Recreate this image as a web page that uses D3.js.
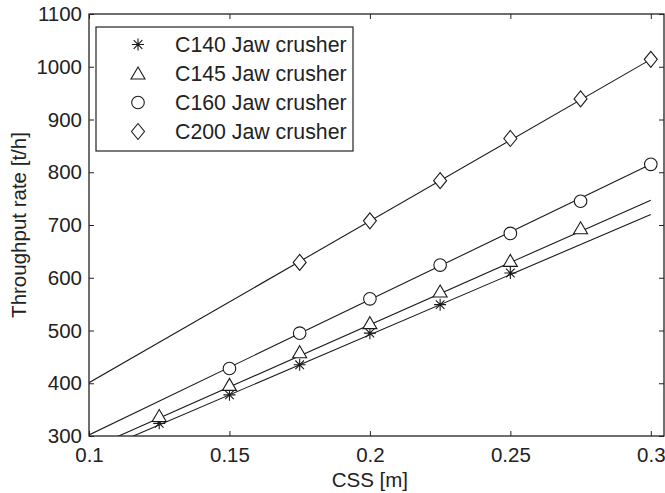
<!DOCTYPE html>
<html>
<head>
<meta charset="utf-8">
<script src="https://cdn.jsdelivr.net/npm/d3@7"></script>
<style>
  body { margin: 0; background: #fff; }
  text { font-family: "Liberation Sans", Arial, sans-serif; fill: #222; }
</style>
</head>
<body>
<div id="chart"></div>
<script>
// values
const seriesNames = ["C140 Jaw crusher", "C145 Jaw crusher", "C160 Jaw crusher", "C200 Jaw crusher"];
const markerTypes = ["asterisk", "triangle", "circle", "diamond"];

const cssC140 = [0.125, 0.15, 0.175, 0.2, 0.225, 0.25];
const rateC140 = [324, 378, 435, 495, 549, 609];
const cssC145 = [0.125, 0.15, 0.175, 0.2, 0.225, 0.25, 0.275];
const rateC145 = [336, 395, 457, 512, 572, 630, 692];
const cssC160 = [0.15, 0.175, 0.2, 0.225, 0.25, 0.275, 0.3];
const rateC160 = [428, 495, 560, 624, 684, 745, 815];
const cssC200 = [0.175, 0.2, 0.225, 0.25, 0.275, 0.3];
const rateC200 = [629, 708, 784, 864, 939, 1014];

// fitted lines, value at css = 0.1 and css = 0.3
const fitCss = [0.1, 0.3];
const fitC140 = [264, 720];
const fitC145 = [275, 747];
const fitC160 = [302, 815];
const fitC200 = [401, 1014];

const xTicks = [0.1, 0.15, 0.2, 0.25, 0.3];
const yTicks = [300, 400, 500, 600, 700, 800, 900, 1000, 1100];

const points = [
    cssC140.map((c, i) => ({ x: c, y: rateC140[i] })),
    cssC145.map((c, i) => ({ x: c, y: rateC145[i] })),
    cssC160.map((c, i) => ({ x: c, y: rateC160[i] })),
    cssC200.map((c, i) => ({ x: c, y: rateC200[i] }))
];
const fits = [fitC140, fitC145, fitC160, fitC200].map(f => fitCss.map((c, i) => ({ x: c, y: f[i] })));

const W = 665, H = 493;
const margin = { top: 14, right: 1, bottom: 57, left: 89 };
const width = W - margin.left - margin.right;
const height = H - margin.top - margin.bottom;

const svg = d3.select("#chart").append("svg")
    .attr("width", W)
    .attr("height", H);

const g = svg.append("g").attr("transform", "translate(" + margin.left + "," + margin.top + ")");

let x = d3.scaleLinear().domain([0.1, 0.3047]).range([0, width]);
let y = d3.scaleLinear().domain([300, 1100]).range([height, 0]);

g.append("clipPath").attr("id", "clip")
    .append("rect").attr("width", width).attr("height", height);

// fitted lines
let line = d3.line().x(d => x(d.x)).y(d => y(d.y));
g.append("g").attr("clip-path", "url(#clip)")
    .selectAll("path")
    .data(fits)
    .enter()
    .append("path")
    .attr("fill", "none")
    .attr("stroke", "#1a1a1a")
    .attr("stroke-width", 1.1)
    .attr("d", line);

// marker shapes, MATLAB style
function markerPath(type) {
    let p = d3.path();
    if (type == "asterisk") {
        let r = 6, s = 4.3;
        p.moveTo(-r, 0); p.lineTo(r, 0);
        p.moveTo(0, -r); p.lineTo(0, r);
        p.moveTo(-s, -s); p.lineTo(s, s);
        p.moveTo(-s, s); p.lineTo(s, -s);
    } else if (type == "triangle") {
        p.moveTo(0, -6.5); p.lineTo(7, 5.5); p.lineTo(-7, 5.5); p.closePath();
    } else if (type == "circle") {
        p.arc(0, 0, 6.3, 0, 2 * Math.PI);
    } else {
        p.moveTo(0, -8); p.lineTo(6.5, 0); p.lineTo(0, 8); p.lineTo(-6.5, 0); p.closePath();
    }
    return p.toString();
}

points.forEach((pts, k) => {
    g.append("g").selectAll("path")
        .data(pts)
        .enter()
        .append("path")
        .attr("transform", d => "translate(" + x(d.x) + "," + (y(d.y) + (markerTypes[k] == "triangle" ? -1 : 0)) + ")")
        .attr("d", markerPath(markerTypes[k]))
        .attr("fill", markerTypes[k] == "asterisk" ? "none" : "#fff")
        .attr("stroke", "#1a1a1a")
        .attr("stroke-width", 1.1);
});

// axes box with inward ticks on all sides
const tickLen = 5;
const fontSize = 20.5;
g.append("g")
    .attr("transform", "translate(0," + height + ")")
    .call(d3.axisBottom(x).tickValues(xTicks).tickSizeInner(-tickLen).tickSizeOuter(0).tickPadding(11).tickFormat(d3.format("")))
    .call(a => a.select(".domain").remove())
    .selectAll("text").attr("font-size", fontSize).attr("fill", "#222");
g.append("g")
    .call(d3.axisTop(x).tickValues(xTicks).tickSizeInner(-tickLen).tickSizeOuter(0).tickFormat(""))
    .call(a => a.select(".domain").remove());
g.append("g")
    .call(d3.axisLeft(y).tickValues(yTicks).tickSizeInner(-tickLen).tickSizeOuter(0).tickPadding(7).tickFormat(d3.format("d")))
    .call(a => a.select(".domain").remove())
    .selectAll("text").attr("font-size", fontSize).attr("fill", "#222");
g.append("g")
    .attr("transform", "translate(" + width + ",0)")
    .call(d3.axisRight(y).tickValues(yTicks).tickSizeInner(-tickLen).tickSizeOuter(0).tickFormat(""))
    .call(a => a.select(".domain").remove());
g.selectAll(".tick line").attr("stroke", "#222");
g.selectAll(".tick text").style("font-family", "'Liberation Sans', Arial, sans-serif");

g.append("rect")
    .attr("width", width)
    .attr("height", height)
    .attr("fill", "none")
    .attr("stroke", "#222")
    .attr("stroke-width", 1.3);

// axis labels
svg.append("text")
    .attr("x", margin.left + x(0.2))
    .attr("y", 487)
    .attr("text-anchor", "middle")
    .attr("font-size", fontSize)
    .text("CSS [m]");
svg.append("text")
    .attr("transform", "translate(26," + (margin.top + height / 2) + ") rotate(-90)")
    .attr("text-anchor", "middle")
    .attr("font-size", fontSize)
    .text("Throughput rate [t/h]");

// legend
let legend = g.append("g").attr("transform", "translate(7,13)");
legend.append("rect")
    .attr("width", 257)
    .attr("height", 124)
    .attr("fill", "#fff")
    .attr("stroke", "#222")
    .attr("stroke-width", 1.2);
seriesNames.forEach((name, k) => {
    let row = legend.append("g").attr("transform", "translate(0," + (17.5 + k * 29) + ")");
    row.append("path")
        .attr("transform", "translate(42,0)")
        .attr("d", markerPath(markerTypes[k]))
        .attr("fill", "none")
        .attr("stroke", "#1a1a1a")
        .attr("stroke-width", 1.1);
    row.append("text")
        .attr("x", 79)
        .attr("dy", "0.36em")
        .attr("font-size", 21.3)
        .text(name);
});
</script>
</body>
</html>
